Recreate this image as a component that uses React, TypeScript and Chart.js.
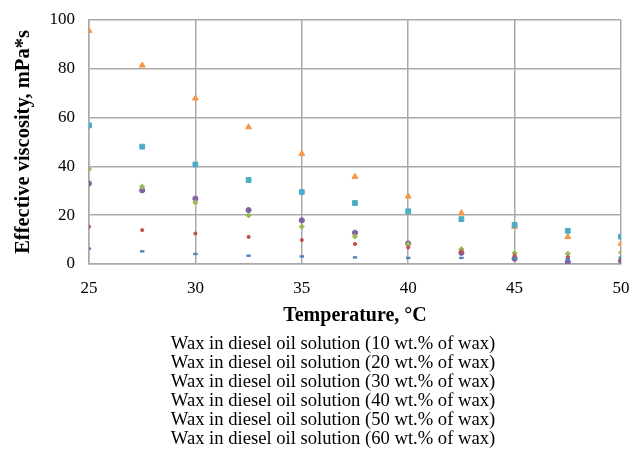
import React, { useEffect, useRef } from "react";
import { Chart, registerables } from "chart.js";

Chart.register(...registerables);

// Temperatures (°C) at which viscosity was measured
const temperatures = [25, 27.5, 30, 32.5, 35, 37.5, 40, 42.5, 45, 47.5, 50];

// Effective viscosity (mPa*s) for each wax concentration
const wax10 = [6.3, 5.2, 4.1, 3.4, 3.1, 2.7, 2.5, 2.5, 2.2, 2.0, 2.6];
const wax20 = [15.3, 13.9, 12.5, 11.1, 9.8, 8.2, 6.8, 5.2, 3.4, 2.8, 2.2];
const wax30 = [38.9, 31.7, 25.2, 19.9, 15.3, 11.3, 8.0, 6.1, 4.5, 4.2, 4.7];
const wax40 = [33.0, 30.2, 26.8, 22.1, 17.9, 12.8, 8.4, 4.6, 2.2, 0.8, 1.3];
const wax50 = [56.8, 48.1, 40.8, 34.4, 29.5, 25.0, 21.6, 18.4, 16.0, 13.6, 11.2];
const wax60 = [95.6, 81.4, 67.9, 56.1, 45.2, 35.8, 27.7, 20.9, 15.3, 11.1, 8.4];

const seriesLabels = [
  "Wax in diesel oil solution (10 wt.% of wax)",
  "Wax in diesel oil solution (20 wt.% of wax)",
  "Wax in diesel oil solution (30 wt.% of wax)",
  "Wax in diesel oil solution (40 wt.% of wax)",
  "Wax in diesel oil solution (50 wt.% of wax)",
  "Wax in diesel oil solution (60 wt.% of wax)",
];

const SERIF = "'Liberation Serif', 'Times New Roman', serif";
const GRID = "#a9a9a9";
const HIDDEN = "rgba(0,0,0,0)";

const toPoints = (ys: number[]) => temperatures.map((x, i) => ({ x, y: ys[i] }));

// Legend drawn as plain centred text lines under the axis title
const textLegend = {
  id: "textLegend",
  afterDraw(chart: any) {
    const ctx = chart.ctx;
    ctx.save();
    ctx.fillStyle = "#000";
    ctx.font = `18.6px ${SERIF}`;
    ctx.textAlign = "center";
    ctx.textBaseline = "middle";
    chart.data.datasets.forEach((ds: any, i: number) => {
      ctx.fillText(ds.label, 333, 344.5 + i * 19);
    });
    ctx.restore();
  },
};

export default function App() {
  const canvasRef = useRef<HTMLCanvasElement | null>(null);

  useEffect(() => {
    if (!canvasRef.current) return;
    const chart = new Chart(canvasRef.current, {
      type: "scatter",
      data: {
        datasets: [
          { label: seriesLabels[0], data: toPoints(wax10), pointStyle: "line", pointRadius: 2.2, borderWidth: 2.4, borderColor: "#4F81BD", backgroundColor: "#4F81BD" },
          { label: seriesLabels[1], data: toPoints(wax20), pointStyle: "circle", pointRadius: 1.6, borderWidth: 1, borderColor: "#C0504D", backgroundColor: "#C0504D" },
          { label: seriesLabels[2], data: toPoints(wax30), pointStyle: "rectRot", pointRadius: 2.6, borderWidth: 1, borderColor: "#9BBB59", backgroundColor: "#9BBB59" },
          { label: seriesLabels[3], data: toPoints(wax40), pointStyle: "circle", pointRadius: 2.6, borderWidth: 1, borderColor: "#8064A2", backgroundColor: "#8064A2" },
          { label: seriesLabels[4], data: toPoints(wax50), pointStyle: "rect", pointRadius: 3.4, borderWidth: 1, borderColor: "#4BACC6", backgroundColor: "#4BACC6" },
          { label: seriesLabels[5], data: toPoints(wax60), pointStyle: "triangle", pointRadius: 3.4, borderWidth: 1, borderColor: "#F79646", backgroundColor: "#F79646" },
        ],
      },
      options: {
        responsive: false,
        animation: false,
        devicePixelRatio: 1,
        layout: { padding: { left: 0, right: 9, top: 20, bottom: 116 } },
        plugins: {
          legend: { display: false },
          tooltip: { enabled: false },
        },
        scales: {
          x: {
            type: "linear",
            min: 25,
            max: 50,
            afterFit: (s: any) => { s.height = 70; },
            ticks: { stepSize: 5, color: "#000", padding: 0, font: { family: SERIF, size: 17 } },
            grid: { color: GRID, lineWidth: 1.5, drawTicks: true, tickLength: 14, tickColor: HIDDEN },
            border: { color: GRID, width: 1.5 },
            title: {
              display: true,
              text: "Temperature, °C",
              color: "#000",
              font: { family: SERIF, size: 20, weight: "bold" },
              padding: { top: 0, bottom: 6 },
            },
          },
          y: {
            min: 0,
            max: 100,
            afterFit: (s: any) => { s.width = 89; },
            ticks: { stepSize: 20, color: "#000", padding: 0, font: { family: SERIF, size: 17 } },
            grid: { color: GRID, lineWidth: 1.5, drawTicks: true, tickLength: 14, tickColor: HIDDEN },
            border: { color: GRID, width: 1.5 },
            title: {
              display: true,
              text: "Effective viscosity, mPa*s",
              color: "#000",
              font: { family: SERIF, size: 20.5, weight: "bold" },
              padding: { top: 11, bottom: 0 },
            },
          },
        },
      },
      plugins: [textLegend],
    });
    return () => chart.destroy();
  }, []);

  return (
    <div style={{ position: "absolute", left: 0, top: 0, width: 630, height: 450, background: "#fff" }}>
      <canvas ref={canvasRef} width={630} height={450} />
    </div>
  );
}
